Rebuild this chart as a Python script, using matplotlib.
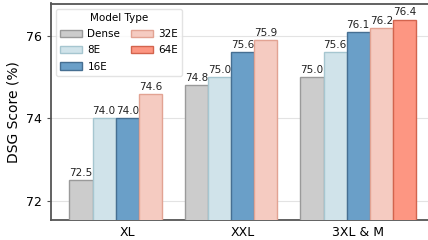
import numpy as np
import matplotlib
matplotlib.use("Agg")
import matplotlib.pyplot as plt

# Model sizes on the x axis and DSG scores per expert setting
groups = ["XL", "XXL", "3XL & M"]
model_types = ["Dense", "8E", "16E", "32E", "64E"]
scores = {
    "Dense": [72.5, 74.8, 75.0],
    "8E": [74.0, 75.0, 75.6],
    "16E": [74.0, 75.6, 76.1],
    "32E": [74.6, 75.9, 76.2],
    "64E": [None, None, 76.4],
}

fills = ["#cccccc", "#d0e3ea", "#6a9fc8", "#f5cbc1", "#fd9682"]
edges = ["#9a9a9a", "#a6c6d0", "#466f92", "#e2a393", "#d3644e"]

fig = plt.figure(figsize=(4.28, 2.40), dpi=100)
ax = fig.add_axes([51 / 428, 20 / 240, 388 / 428, 216.5 / 240])

x = np.arange(len(groups))
width = 0.2
for i, name in enumerate(model_types):
    xs, ys = [], []
    for j, v in enumerate(scores[name]):
        if v is not None:
            xs.append(x[j] + (i - 2) * width)
            ys.append(v)
    bars = ax.bar(xs, ys, width, color=fills[i], edgecolor=edges[i],
                  linewidth=1.0, label=name, zorder=3)
    for b, v in zip(bars, ys):
        ax.text(b.get_x() + b.get_width() / 2, v + 0.05, f"{v:.1f}",
                ha="center", va="bottom", fontsize=7.5, color="#222222")

ax.set_xlim(-0.66, 2.70)
ax.set_ylim(71.53, 76.79)
ax.set_yticks([72, 74, 76])
ax.set_xticks(x)
ax.set_xticklabels(groups)
ax.tick_params(axis="x", length=0, labelsize=9, pad=4)
ax.tick_params(axis="y", length=3, width=0.8, labelsize=9, color="#555555")
ax.set_ylabel("DSG Score (%)", fontsize=10)

ax.yaxis.grid(True, color="#e3e3e3", linewidth=0.8, zorder=0)
ax.set_axisbelow(True)
for side in ["left", "bottom", "top", "right"]:
    ax.spines[side].set_color("#555555")
    ax.spines[side].set_linewidth(1.3)

leg = ax.legend(title="Model Type", ncol=2, loc="upper left",
                fontsize=7.5, title_fontsize=7.5, frameon=True,
                handlelength=2.1, handleheight=0.7, columnspacing=1.0,
                labelspacing=0.6, handletextpad=0.5, borderaxespad=0.5)
leg.get_frame().set_edgecolor("#dddddd")

plt.savefig("out.png", dpi=100)
